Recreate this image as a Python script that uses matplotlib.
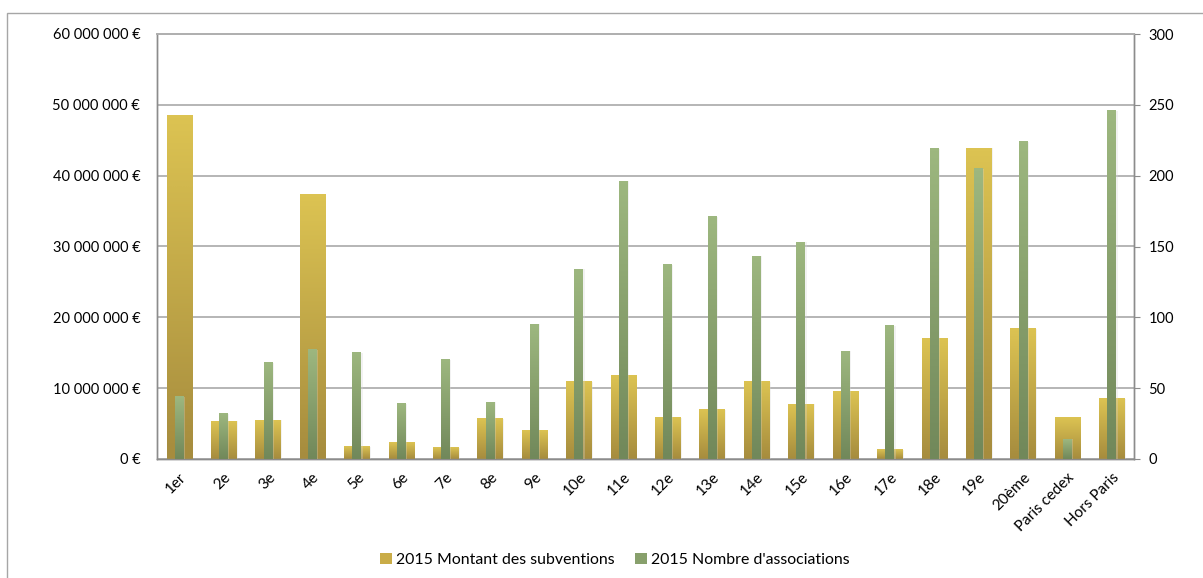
import matplotlib
matplotlib.use("Agg")
import matplotlib.pyplot as plt
import numpy as np
from matplotlib.colors import LinearSegmentedColormap
from matplotlib.patches import Patch, Rectangle
from matplotlib.ticker import FuncFormatter, MultipleLocator

# arrondissements
categories = ["1er", "2e", "3e", "4e", "5e", "6e", "7e", "8e", "9e", "10e",
              "11e", "12e", "13e", "14e", "15e", "16e", "17e", "18e", "19e",
              "20ème", "Paris cedex", "Hors Paris"]
# montant des subventions (euros)
montants = [48.5e6, 5.3e6, 5.5e6, 37.4e6, 1.7e6, 2.3e6, 1.6e6, 5.7e6, 4.0e6, 10.9e6,
            11.8e6, 5.8e6, 6.95e6, 10.9e6, 7.7e6, 9.6e6, 1.3e6, 17.0e6, 43.9e6,
            18.4e6, 5.8e6, 8.5e6]
# nombre d'associations
nb_assos = [44, 32, 68, 77, 75, 39, 70, 40, 95, 134,
            196, 137, 171, 143, 153, 76, 94, 219, 205,
            224, 14, 246]

label_montant = "2015 Montant des subventions"
label_assos = "2015 Nombre d'associations"

gold = ("#dcc352", "#a68c3e")
green = ("#9db77f", "#71885a")

plt.rcParams['font.family'] = ['Lato', 'DejaVu Sans']
plt.rcParams['font.size'] = 10.5

fig = plt.figure(figsize=(12.03, 5.78), dpi=100)
ax = fig.add_axes([157 / 1203, 1 - 459 / 578, (1134 - 157) / 1203, (459 - 34) / 578])
ax2 = ax.twinx()

# outer border of the chart area
fig.patches.append(Rectangle((7 / 1203, -0.05), 1.2, 0.05 + (578 - 13) / 578,
                             transform=fig.transFigure, fill=False,
                             edgecolor="#a6a6a6", linewidth=1.0))


def gradient_bar(axis, x, h, w, cols, z):
    cmap = LinearSegmentedColormap.from_list("g", [cols[1], cols[0]])
    grad = np.linspace(0, 1, 64).reshape(-1, 1)
    # soft shadow on the right
    axis.add_patch(Rectangle((x - w / 2 + 0.03, 0), w, h, color="#d6d6d6",
                             alpha=0.3, linewidth=0, zorder=z - 0.1))
    axis.imshow(grad, extent=(x - w / 2, x + w / 2, 0, h), origin="lower",
                cmap=cmap, aspect="auto", interpolation="bicubic", zorder=z)


x = np.arange(len(categories))
for xi, v in zip(x, montants):
    gradient_bar(ax, xi, v, 0.57, gold, 3)
for xi, v in zip(x, nb_assos):
    gradient_bar(ax2, xi, v, 0.2, green, 3)

ax.set_xlim(-0.5, len(categories) - 0.5)
ax.set_ylim(0, 60e6)
ax2.set_ylim(0, 300)
ax.yaxis.set_major_locator(MultipleLocator(10e6))
ax2.yaxis.set_major_locator(MultipleLocator(50))
ax.yaxis.set_major_formatter(FuncFormatter(
    lambda v, p: "{:,.0f} €".format(v).replace(",", " ")))

ax.grid(axis="y", color="#b0b0b0", linewidth=1.3, zorder=1)
ax.set_axisbelow(True)
ax.set_xticks(x)
ax.set_xticklabels(categories, rotation=45, ha="right", va="top",
                   rotation_mode="anchor", fontsize=11)
ax.tick_params(axis="x", length=0, pad=8)
ax.tick_params(axis="y", length=0, pad=12)
ax2.tick_params(axis="y", length=4.5, color="#8c8c8c", pad=6)

for a in (ax, ax2):
    for s in a.spines.values():
        s.set_color("#8c8c8c")
        s.set_linewidth(1.0)
    a.spines["top"].set_color("#b0b0b0")
    a.spines["top"].set_linewidth(1.3)

handles = [Patch(facecolor="#c9ac48", label=label_montant),
           Patch(facecolor="#88a06c", label=label_assos)]
fig.legend(handles=handles, loc="center", bbox_to_anchor=(0.511, 1 - 560 / 578),
           ncol=2, frameon=False, handlelength=0.75, handleheight=0.75,
           handletextpad=0.25, columnspacing=1.3, fontsize=11.4)

fig.savefig("out.png", dpi=100)
